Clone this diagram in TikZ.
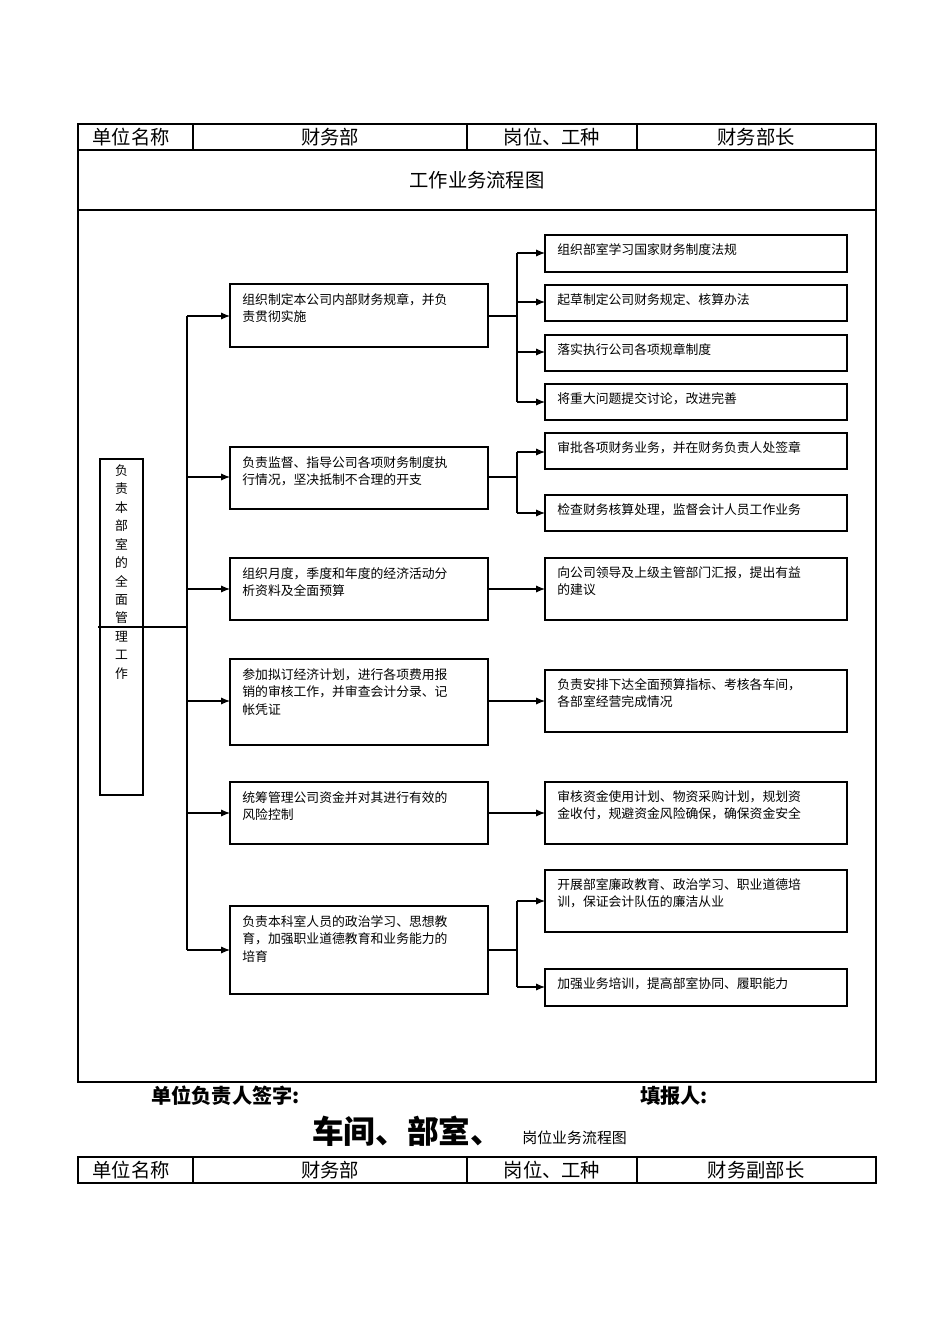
\documentclass[tikz,border=0pt]{standalone}
\usepackage{fontspec}
\newfontfamily\cjk{Noto Sans CJK SC}
\usetikzlibrary{arrows.meta}
\begin{document}
\begin{tikzpicture}[x=0.02cm,y=-0.02cm,
  box/.style={draw,line width=0.6pt},
  txt/.style={anchor=north west,align=left,font=\cjk\fontsize{7.3}{10}\selectfont,inner sep=0pt},
  cell/.style={font=\cjk\fontsize{11}{13}\selectfont},
  arr/.style={-{Latex[length=5pt,width=4pt]},line width=0.6pt},
  ln/.style={line width=0.6pt}]
\useasboundingbox (0,0) rectangle (950,1344);
% table
\draw[ln] (78,124) rectangle (876,1082);
\draw[ln] (78,150) -- (876,150) (78,210) -- (876,210);
\draw[ln] (193,124) -- (193,150) (467,124) -- (467,150) (637,124) -- (637,150);
\node[cell] (c1) at (131,137) {单位名称};
\node[cell] (c2) at (330,137) {财务部};
\node[cell] (c3) at (552,137) {岗位、工种};
\node[cell] (c4) at (756,137) {财务部长};
\node[cell] (title) at (477,180) {工作业务流程图};
% left box
\node[box,minimum width=43\pgflinewidth,inner sep=0pt] (L) at (121.5,627) {};
\draw[box] (100,459) rectangle (143,795);
\node[font=\cjk\fontsize{7.3}{10.5}\selectfont,align=center] (Lt) at (121.5,572) {负\\责\\本\\部\\室\\的\\全\\面\\管\\理\\工\\作};
\coordinate (Lr) at (143,627);
\coordinate (T) at (187,627);
\draw[ln] (Lr) -- (T);
\draw[ln] (187,316) -- (187,950);
% middle boxes
\foreach \n/\a/\b/\y/\t in {
 m1/284/347/316/{组织制定本公司内部财务规章，并负\\责贯彻实施},
 m2/447/509/477/{负责监督、指导公司各项财务制度执\\行情况，坚决抵制不合理的开支},
 m3/558/620/589/{组织月度，季度和年度的经济活动分\\析资料及全面预算},
 m4/659/745/701/{参加拟订经济计划，进行各项费用报\\销的审核工作，并审查会计分录、记\\帐凭证},
 m5/782/844/813/{统筹管理公司资金并对其进行有效的\\风险控制},
 m6/906/994/950/{负责本科室人员的政治学习、思想教\\育，加强职业道德教育和业务能力的\\培育}}{
 \draw[box] (230,\a) rectangle (488,\b);
 \coordinate (\n l) at (230,\y);
 \coordinate (\n r) at (488,\y);
 \coordinate (\n s) at (187,\y);
 \node[txt] (\n) at (242,\a+9) {\t};
 \draw[arr] (\n s) -- (\n l);
}
% right boxes
\foreach \n/\a/\b/\t in {
 r1/235/272/{组织部室学习国家财务制度法规},
 r2/285/321/{起草制定公司财务规定、核算办法},
 r3/335/371/{落实执行公司各项规章制度},
 r4/384/420/{将重大问题提交讨论，改进完善},
 r5/433/469/{审批各项财务业务，并在财务负责人处签章},
 r6/495/531/{检查财务核算处理，监督会计人员工作业务},
 r7/558/620/{向公司领导及上级主管部门汇报，提出有益\\的建议},
 r8/670/732/{负责安排下达全面预算指标、考核各车间，\\各部室经营完成情况},
 r9/782/844/{审核资金使用计划、物资采购计划，规划资\\金收付，规避资金风险确保，确保资金安全},
 r10/870/932/{开展部室廉政教育、政治学习、职业道德培\\训，保证会计队伍的廉洁从业},
 r11/969/1006/{加强业务培训，提高部室协同、履职能力}}{
 \draw[box] (545,\a) rectangle (847,\b);
 \node[txt] (\n) at (557,\a+8) {\t};
}
\coordinate (rl1) at (545,253); \coordinate (rl2) at (545,302);
\coordinate (rl3) at (545,352); \coordinate (rl4) at (545,402);
\coordinate (rl5) at (545,452); \coordinate (rl6) at (545,513);
\coordinate (rl7) at (545,589); \coordinate (rl8) at (545,701);
\coordinate (rl9) at (545,813); \coordinate (rl10) at (545,901);
\coordinate (rl11) at (545,987);
\draw[ln] (m1r) -- (517,316) (517,253) -- (517,402);
\foreach \k/\y in {1/253,2/302,3/352,4/402} \draw[arr] (517,\y) -- (rl\k);
\draw[ln] (m2r) -- (517,477) (517,452) -- (517,513);
\foreach \k/\y in {5/452,6/513} \draw[arr] (517,\y) -- (rl\k);
\draw[arr] (m3r) -- (rl7);
\draw[arr] (m4r) -- (rl8);
\draw[arr] (m5r) -- (rl9);
\draw[ln] (m6r) -- (517,950) (517,901) -- (517,987);
\foreach \k/\y in {10/901,11/987} \draw[arr] (517,\y) -- (rl\k);
% footer
\node[font=\cjk\bfseries\fontsize{11.5}{13}\selectfont,anchor=west] (s1) at (145,1096) {单位负责人签字:};
\node[font=\cjk\bfseries\fontsize{11.5}{13}\selectfont,anchor=west] (s2) at (634,1096) {填报人:};
\node[font=\cjk\bfseries\fontsize{18}{20}\selectfont,anchor=base west,inner sep=0pt] (big) at (312,1143) {车间、部室、};
\node[font=\cjk\fontsize{8.5}{10}\selectfont,anchor=base west,inner sep=0pt] (small) at (522,1143) {岗位业务流程图};
\draw[ln] (78,1157) rectangle (876,1183);
\draw[ln] (193,1157) -- (193,1183) (467,1157) -- (467,1183) (637,1157) -- (637,1183);
\node[cell] (d1) at (131,1170) {单位名称};
\node[cell] (d2) at (330,1170) {财务部};
\node[cell] (d3) at (552,1170) {岗位、工种};
\node[cell] (d4) at (756,1170) {财务副部长};
\end{tikzpicture}
\end{document}
